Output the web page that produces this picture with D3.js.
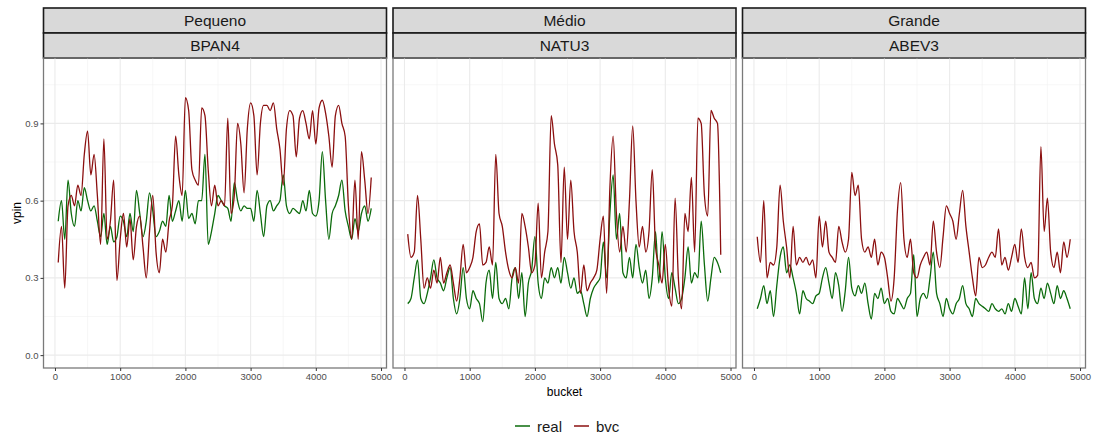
<!DOCTYPE html>
<html>
<head>
<meta charset="utf-8">
<script src="https://cdn.jsdelivr.net/npm/d3@7"></script>
<style>
  body { margin: 0; background: #fff; }
  text { font-family: "Liberation Sans", Arial, sans-serif; }
</style>
</head>
<body>
<div id="chart"></div>
<script>
// bucket positions shared by all series
const buckets = [50,100,150,200,250,300,350,400,450,500,
  550,600,650,700,750,800,850,900,950,1000,
  1050,1100,1150,1200,1250,1300,1350,1400,1450,1500,
  1550,1600,1650,1700,1750,1800,1850,1900,1950,2000,
  2050,2100,2150,2200,2250,2300,2350,2400,2450,2500,
  2550,2600,2650,2700,2750,2800,2850,2900,2950,3000,
  3050,3100,3150,3200,3250,3300,3350,3400,3450,3500,
  3550,3600,3650,3700,3750,3800,3850,3900,3950,4000,
  4050,4100,4150,4200,4250,4300,4350,4400,4450,4500,
  4550,4600,4650,4700,4750,4800,4850];

const sizes = ["Pequeno", "Médio", "Grande"];
const tickers = ["BPAN4", "NATU3", "ABEV3"];
const seriesNames = ["real", "bvc"];

const bpan4Real = [0.52,0.60,0.45,0.68,0.55,0.50,0.60,0.56,0.65,0.60,
  0.56,0.58,0.52,0.46,0.55,0.43,0.50,0.44,0.46,0.54,
  0.52,0.46,0.55,0.48,0.64,0.55,0.46,0.52,0.63,0.56,
  0.46,0.48,0.52,0.50,0.62,0.52,0.56,0.60,0.52,0.64,
  0.53,0.55,0.51,0.60,0.60,0.78,0.43,0.48,0.55,0.62,
  0.60,0.58,0.57,0.52,0.67,0.60,0.56,0.58,0.57,0.57,
  0.52,0.64,0.55,0.46,0.58,0.60,0.56,0.58,0.60,0.70,
  0.58,0.55,0.57,0.56,0.55,0.60,0.56,0.64,0.55,0.54,
  0.60,0.79,0.60,0.45,0.55,0.58,0.62,0.68,0.56,0.50,
  0.45,0.53,0.48,0.55,0.58,0.52,0.57];
const bpan4Bvc = [0.36,0.50,0.26,0.58,0.62,0.58,0.66,0.62,0.78,0.87,
  0.70,0.78,0.62,0.43,0.84,0.45,0.52,0.68,0.29,0.45,
  0.55,0.42,0.53,0.37,0.50,0.54,0.42,0.30,0.48,0.62,
  0.40,0.32,0.45,0.40,0.52,0.58,0.85,0.70,0.62,1.00,
  0.95,0.72,0.68,0.66,0.96,0.93,0.72,0.58,0.66,0.58,
  0.60,0.58,0.92,0.55,0.62,0.90,0.82,0.63,0.88,0.98,
  0.93,0.70,0.90,0.97,0.97,0.95,0.98,0.88,0.80,0.66,
  0.88,0.95,0.93,0.77,0.92,0.95,0.90,0.84,0.95,0.82,
  0.96,0.99,0.94,0.85,0.73,0.93,0.97,0.90,0.85,0.58,
  0.45,0.68,0.45,0.79,0.68,0.55,0.69];

const natu3Real = [0.20,0.22,0.30,0.37,0.22,0.20,0.24,0.30,0.37,0.30,
  0.28,0.25,0.30,0.34,0.22,0.16,0.22,0.34,0.22,0.18,
  0.25,0.22,0.20,0.13,0.28,0.33,0.22,0.36,0.22,0.20,
  0.22,0.18,0.30,0.34,0.22,0.32,0.15,0.28,0.33,0.46,
  0.28,0.22,0.30,0.28,0.34,0.30,0.34,0.28,0.38,0.32,
  0.26,0.30,0.24,0.25,0.20,0.15,0.22,0.26,0.28,0.30,
  0.44,0.30,0.55,0.70,0.45,0.55,0.32,0.30,0.38,0.30,
  0.43,0.34,0.28,0.33,0.22,0.30,0.48,0.28,0.48,0.30,
  0.22,0.32,0.26,0.20,0.22,0.30,0.42,0.28,0.32,0.30,
  0.52,0.35,0.21,0.30,0.38,0.36,0.32];
const natu3Bvc = [0.47,0.38,0.40,0.62,0.45,0.26,0.30,0.26,0.33,0.28,
  0.38,0.28,0.32,0.35,0.28,0.21,0.30,0.43,0.32,0.34,
  0.38,0.48,0.51,0.35,0.36,0.42,0.35,0.78,0.55,0.50,
  0.40,0.33,0.30,0.34,0.28,0.55,0.50,0.42,0.32,0.35,
  0.59,0.30,0.40,0.48,0.93,0.82,0.74,0.36,0.73,0.45,
  0.68,0.48,0.40,0.24,0.35,0.25,0.28,0.30,0.33,0.45,
  0.54,0.24,0.65,0.85,0.55,0.40,0.50,0.40,0.60,0.89,
  0.60,0.42,0.50,0.40,0.48,0.72,0.42,0.35,0.28,0.43,
  0.26,0.19,0.61,0.30,0.18,0.55,0.48,0.69,0.40,0.92,
  0.90,0.62,0.54,0.95,0.92,0.90,0.39];

const abev3Real = [0.18,0.22,0.27,0.20,0.25,0.15,0.27,0.38,0.42,0.32,
  0.35,0.30,0.24,0.16,0.25,0.22,0.21,0.20,0.23,0.24,
  0.30,0.34,0.28,0.22,0.32,0.27,0.17,0.25,0.38,0.26,
  0.23,0.27,0.24,0.28,0.20,0.14,0.24,0.22,0.26,0.20,
  0.22,0.17,0.16,0.22,0.20,0.18,0.22,0.24,0.39,0.15,
  0.22,0.24,0.22,0.30,0.40,0.24,0.20,0.15,0.22,0.18,
  0.16,0.20,0.22,0.27,0.20,0.18,0.15,0.22,0.20,0.19,
  0.18,0.17,0.20,0.18,0.17,0.18,0.16,0.20,0.17,0.22,
  0.19,0.16,0.30,0.18,0.32,0.22,0.20,0.26,0.22,0.28,
  0.24,0.20,0.27,0.22,0.25,0.22,0.18];
const abev3Bvc = [0.46,0.36,0.60,0.30,0.36,0.35,0.42,0.66,0.52,0.42,
  0.30,0.50,0.35,0.38,0.36,0.38,0.35,0.37,0.30,0.54,
  0.42,0.52,0.40,0.38,0.36,0.50,0.44,0.40,0.45,0.71,
  0.62,0.66,0.45,0.40,0.42,0.38,0.45,0.35,0.40,0.38,
  0.30,0.21,0.30,0.56,0.67,0.45,0.38,0.45,0.32,0.30,
  0.35,0.38,0.40,0.35,0.52,0.40,0.34,0.46,0.58,0.55,
  0.52,0.45,0.55,0.64,0.50,0.40,0.30,0.23,0.38,0.34,
  0.35,0.38,0.40,0.38,0.49,0.35,0.38,0.33,0.38,0.43,
  0.36,0.49,0.38,0.34,0.36,0.30,0.31,0.81,0.48,0.61,
  0.40,0.34,0.40,0.32,0.44,0.38,0.45];

const xTicks = [0, 1000, 2000, 3000, 4000, 5000];
const yTicks = [0.0, 0.3, 0.6, 0.9];
const yMinor = [0.15, 0.45, 0.75, 1.05];
const xMinor = [500, 1500, 2500, 3500, 4500];

const panels = [
  { size: sizes[0], ticker: tickers[0], real: bpan4Real, bvc: bpan4Bvc },
  { size: sizes[1], ticker: tickers[1], real: natu3Real, bvc: natu3Bvc },
  { size: sizes[2], ticker: tickers[2], real: abev3Real, bvc: abev3Bvc }
];

const colors = { real: "#0b6b0b", bvc: "#8b0f0f" };

const W = 1096, H = 435;
const pw = 343, stripH = 25, stripTop = 8;
const plotTop = stripTop + 2 * stripH, plotH = 310;
const lefts = [43.5, 393, 742.5];

const svg = d3.select("#chart").append("svg")
  .attr("width", W).attr("height", H);

const x = d3.scaleLinear().domain([-176, 5084]).range([0, pw]);
const y = d3.scaleLinear().domain([-0.05, 1.154]).range([plotH, 0]);

const line = d3.line()
  .x(d => x(d[0])).y(d => y(d[1]))
  .curve(d3.curveMonotoneX);

panels.forEach((p, i) => {
  const g = svg.append("g").attr("transform", `translate(${lefts[i]},0)`);

  // strips
  [p.size, p.ticker].forEach((lab, k) => {
    g.append("rect")
      .attr("x", 0).attr("y", stripTop + k * stripH)
      .attr("width", pw).attr("height", stripH)
      .attr("fill", "#d9d9d9").attr("stroke", "#1a1a1a").attr("stroke-width", 1.6);
    g.append("text")
      .attr("x", pw / 2).attr("y", stripTop + k * stripH + stripH / 2 + 5.5)
      .attr("text-anchor", "middle")
      .style("font-size", "15.5px").style("fill", "#1a1a1a")
      .text(lab);
  });

  const pg = g.append("g").attr("transform", `translate(0,${plotTop})`);

  // grid
  pg.selectAll(".ymin").data(yMinor).enter().append("line")
    .attr("x1", 0).attr("x2", pw).attr("y1", d => y(d)).attr("y2", d => y(d))
    .attr("stroke", "#f2f2f2").attr("stroke-width", 0.6);
  pg.selectAll(".xmin").data(xMinor).enter().append("line")
    .attr("y1", 0).attr("y2", plotH).attr("x1", d => x(d)).attr("x2", d => x(d))
    .attr("stroke", "#f2f2f2").attr("stroke-width", 0.6);
  pg.selectAll(".ymaj").data(yTicks).enter().append("line")
    .attr("x1", 0).attr("x2", pw).attr("y1", d => y(d)).attr("y2", d => y(d))
    .attr("stroke", "#ebebeb").attr("stroke-width", 1.1);
  pg.selectAll(".xmaj").data(xTicks).enter().append("line")
    .attr("y1", 0).attr("y2", plotH).attr("x1", d => x(d)).attr("x2", d => x(d))
    .attr("stroke", "#ebebeb").attr("stroke-width", 1.1);

  // lines
  seriesNames.forEach(s => {
    const pts = buckets.map((b, j) => [b, p[s][j]]);
    pg.append("path").datum(pts)
      .attr("d", line).attr("fill", "none")
      .attr("stroke", colors[s]).attr("stroke-width", 1.3)
      .attr("stroke-linejoin", "round");
  });

  // border
  pg.append("rect").attr("width", pw).attr("height", plotH)
    .attr("fill", "none").attr("stroke", "#7a7a7a").attr("stroke-width", 1.3);

  // x axis
  const xa = pg.append("g").attr("transform", `translate(0,${plotH})`)
    .call(d3.axisBottom(x).tickValues(xTicks).tickSize(3).tickPadding(2).tickFormat(d3.format("d")));
  xa.select(".domain").remove();
  xa.selectAll("line").attr("stroke", "#333");
  xa.selectAll("text").style("font-size", "9.5px").style("fill", "#4d4d4d")
    .style("font-family", "'Liberation Sans', Arial, sans-serif");

  if (i === 0) {
    const ya = pg.append("g")
      .call(d3.axisLeft(y).tickValues(yTicks).tickSize(3).tickPadding(2).tickFormat(d3.format(".1f")));
    ya.select(".domain").remove();
    ya.selectAll("line").attr("stroke", "#333");
    ya.selectAll("text").style("font-size", "9.5px").style("fill", "#4d4d4d")
      .style("font-family", "'Liberation Sans', Arial, sans-serif");
  }
});

// axis titles
svg.append("text")
  .attr("x", lefts[1] + pw / 2).attr("y", 396)
  .attr("text-anchor", "middle").style("font-size", "12px").style("fill", "#000")
  .text("bucket");
svg.append("text")
  .attr("transform", `translate(21,${plotTop + plotH / 2}) rotate(-90)`)
  .attr("text-anchor", "middle").style("font-size", "12px").style("fill", "#000")
  .text("vpin");

// legend
const leg = svg.append("g").attr("transform", "translate(514,426)");
let lx = 0;
seriesNames.forEach(s => {
  leg.append("line").attr("x1", lx + 1).attr("x2", lx + 16).attr("y1", 0).attr("y2", 0)
    .attr("stroke", colors[s]).attr("stroke-width", 1.5);
  const t = leg.append("text").attr("x", lx + 23).attr("y", 5.5)
    .style("font-size", "15px").style("fill", "#1a1a1a").text(s);
  lx += 23 + t.node().getComputedTextLength() + 11;
});
</script>
</body>
</html>
